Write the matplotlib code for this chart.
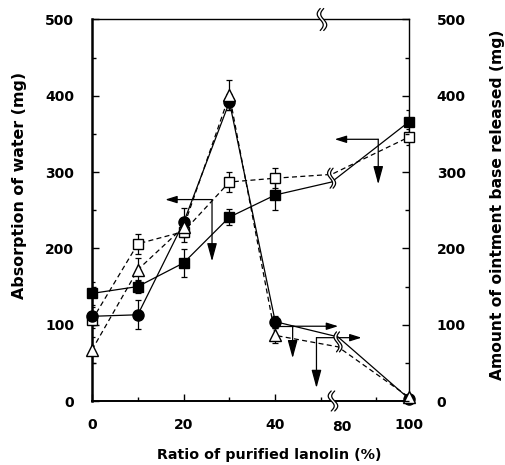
import numpy as np
import matplotlib
matplotlib.use('Agg')
import matplotlib.pyplot as plt
import matplotlib.transforms as mtransforms
from matplotlib.patches import Polygon

plt.rcParams['font.family'] = 'DejaVu Sans'
plt.rcParams['font.weight'] = 'bold'
plt.rcParams['font.size'] = 10
plt.rcParams['lines.scale_dashes'] = False

# --- data ---
ratio = [0, 10, 20, 30, 40, 100]          # purified lanolin (%)

# absorption of water (left axis)
water_filled = [141, 150, 181, 241, 270, 366]
water_filled_err = [15, 8, 18, 10, 20, 15]
water_open = [106, 206, 222, 287, 292, 346]
water_open_err = [10, 13, 13, 13, 13, 10]
water_at_break = [287, 297]               # filled, open where lines cross the break

# ointment base released (right axis)
release_filled = [111, 113, 234, 392, 104, 3]
release_filled_err = [12, 19, 19, 10, 8, 3]
release_open = [67, 172, 228, 401, 86, 5]
release_open_err = [17, 15, 12, 20, 10, 3]
release_at_break = [84, 71]

y_ticks = [0, 100, 200, 300, 400, 500]

# bracket arrows: (corner_x, corner_y, side_x, down_y), x in ratio %, y in mg
arrows_left = [(26.2, 264, 16.0, 183), (90.8, 343, 77.8, 284)]
arrows_right = [(43.8, 98, 78.8, 56), (49.0, 83, 85.8, 17)]


def to_axis(x):
    # broken x axis: 0-50 linear, 80-100 compressed after the break
    x = np.asarray(x, dtype=float)
    return np.where(x <= 50, x, 54.6 + (x - 80) * 0.73)


X_MAX = float(to_axis(100))
LINE_BREAK_SQ = 52.3
LINE_BREAK_CI = 53.7


def squiggle(ax, ref, xd, yd, h_px, w_px=5.0, gap_px=3.0, lw=0.9):
    fig = ax.figure
    tr = fig.dpi_scale_trans + mtransforms.ScaledTranslation(xd, yd, ref.transData)
    t = np.linspace(-1, 1, 60)
    h = h_px / fig.dpi
    w = w_px / fig.dpi
    g = gap_px / fig.dpi
    yy = t * h / 2
    xx = -w / 2 * np.sin(np.pi * t)
    x1 = xx - g / 2
    x2 = xx + g / 2
    poly = np.concatenate([np.c_[x1, yy], np.c_[x2[::-1], yy[::-1]]])
    ax.add_patch(Polygon(poly, closed=True, transform=tr, fc='white',
                         ec='none', zorder=5, clip_on=False))
    for xs in (x1, x2):
        ax.plot(xs, yy, transform=tr, color='k', lw=lw, zorder=6,
                clip_on=False, solid_capstyle='round')


fig = plt.figure(figsize=(5.05, 4.65), dpi=100)
ax = fig.add_axes([92 / 505, 64 / 465, 317 / 505, 381.5 / 465])

xa = to_axis(ratio)

def series_line(vals, brk, brk_d):
    xs = list(xa[:5]) + [brk_d, xa[5]]
    ys = list(vals[:5]) + [brk, vals[5]]
    return xs, ys

dash = (0, (3.6, 2.4))
ek = dict(ecolor='k', elinewidth=0.9, capsize=2.2, capthick=0.9, ls='none')

# water absorption, filled squares
xs, ys = series_line(water_filled, water_at_break[0], LINE_BREAK_SQ)
ax.plot(xs, ys, color='k', lw=0.9, zorder=3)
ax.errorbar(xa, water_filled, yerr=water_filled_err, zorder=3, **ek)
ax.plot(xa, water_filled, ls='none', marker='s', ms=7.5, mfc='k', mec='k', zorder=4, clip_on=False)

# water absorption, open squares
xs, ys = series_line(water_open, water_at_break[1], LINE_BREAK_SQ)
ax.plot(xs, ys, color='k', lw=0.9, ls=dash, zorder=3)
ax.errorbar(xa, water_open, yerr=water_open_err, zorder=3, **ek)
ax.plot(xa, water_open, ls='none', marker='s', ms=7, mfc='white', mec='k', mew=1, zorder=4, clip_on=False)

# released base, filled circles
xs, ys = series_line(release_filled, release_at_break[0], LINE_BREAK_CI)
ax.plot(xs, ys, color='k', lw=0.9, zorder=3)
ax.errorbar(xa, release_filled, yerr=release_filled_err, zorder=3, **ek)
ax.plot(xa, release_filled, ls='none', marker='o', ms=8, mfc='k', mec='k', zorder=4, clip_on=False)

# released base, open triangles
xs, ys = series_line(release_open, release_at_break[1], LINE_BREAK_CI)
ax.plot(xs, ys, color='k', lw=0.9, ls=dash, zorder=3)
ax.errorbar(xa, release_open, yerr=release_open_err, zorder=3, **ek)
ax.plot(xa, release_open, ls='none', marker='^', ms=8, mfc='white', mec='k', mew=1, zorder=4, clip_on=False)

# bracket arrows
def arrow(p_from, p_to, hl, hw):
    ax.annotate('', xy=p_to, xytext=p_from,
                arrowprops=dict(arrowstyle=f'-|>,head_length={hl},head_width={hw}',
                                lw=0.9, color='k', shrinkA=0, shrinkB=0),
                zorder=4)

for cx, cy, sx, dy in arrows_left + arrows_right:
    cxa = float(to_axis(cx))
    sxa = float(to_axis(sx))
    arrow((cxa, cy), (sxa, cy), 0.7, 0.22)
    arrow((cxa, cy), (cxa, dy), 1.1, 0.3)
# horizontal of the first right arrow starts at the 40 % circle
ax.plot([float(xa[4]), float(to_axis(arrows_right[0][0]))],
        [arrows_right[0][1]] * 2, color='k', lw=0.9, zorder=3)

ax.set_xlim(0, X_MAX)
ax.set_ylim(0, 500)

ax.set_xticks(to_axis([0, 20, 40, 100]))
ax.set_xticklabels(['0', '20', '40', '100'])
ax.set_xticks(to_axis([10, 30, 50, 90]), minor=True)
ax.text(float(to_axis(80)), -0.05, '80', transform=ax.get_xaxis_transform(),
        ha='center', va='top', fontsize=10, fontweight='bold')
ax.set_yticks(y_ticks)
ax.set_yticks(np.arange(50, 500, 100), minor=True)
ax.tick_params(axis='both', which='major', direction='in', length=5, width=1)
ax.tick_params(axis='both', which='minor', direction='in', length=3, width=1)
ax.tick_params(axis='x', pad=12)
ax.tick_params(axis='y', pad=13)

for side, lw in (('left', 1.8), ('bottom', 1.4), ('right', 1.0), ('top', 1.0)):
    ax.spines[side].set_linewidth(lw)

ax.set_ylabel('Absorption of water (mg)', fontsize=11.4, fontweight='bold')
ax.yaxis.set_label_coords(-0.205, 0.566)
fig.text(269 / 505, 1 - 455 / 465, 'Ratio of purified lanolin (%)',
         ha='center', va='center', fontsize=10.3, fontweight='bold')

ax2 = ax.twinx()
ax2.set_ylim(0, 500)
ax2.set_yticks(y_ticks)
ax2.set_yticks(np.arange(50, 500, 100), minor=True)
ax2.tick_params(axis='y', which='major', direction='in', length=5, width=1, pad=20)
ax2.tick_params(axis='y', which='minor', direction='in', length=3, width=1)
for s in ax2.spines.values():
    s.set_visible(False)
ax2.set_ylabel('Amount of ointment base released (mg)', fontsize=11.2, fontweight='bold')
ax2.yaxis.set_label_coords(1.257, 0.515)

# axis and line breaks
squiggle(ax2, ax, 50.2, 500, 22, w_px=6, gap_px=3.5)
squiggle(ax2, ax, 52.6, 0, 20, w_px=6, gap_px=3.5)
squiggle(ax2, ax, LINE_BREAK_SQ, (water_at_break[0] + water_at_break[1]) / 2, 20, w_px=5, gap_px=3)
squiggle(ax2, ax, LINE_BREAK_CI, (release_at_break[0] + release_at_break[1]) / 2, 20, w_px=5, gap_px=3)

fig.savefig('out.png', dpi=100)
